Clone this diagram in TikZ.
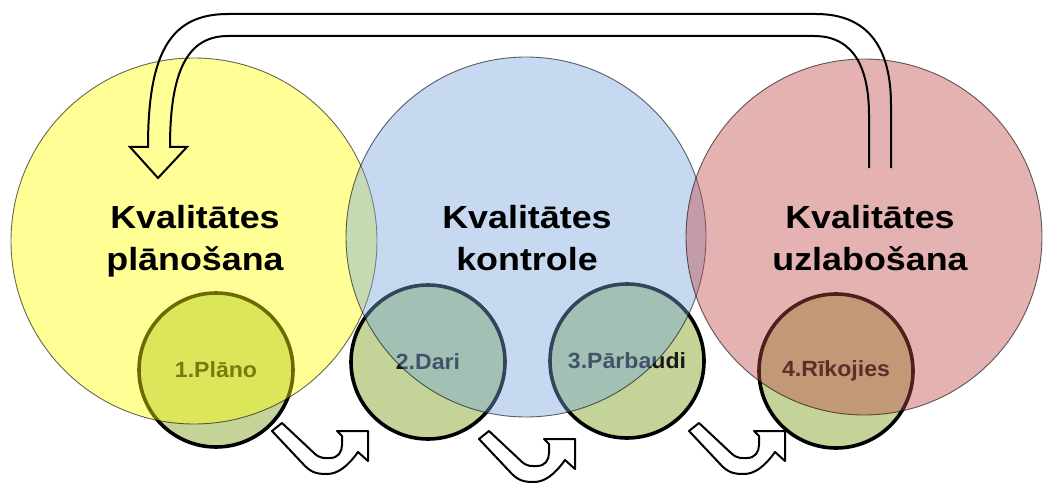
\documentclass[tikz,border=0pt]{standalone}
\usepackage{fontspec}
\setmainfont{Liberation Sans}
\newfontfamily\bigfont[FakeStretch=1.12]{Liberation Sans}
\newfontfamily\smallfont[FakeStretch=1.05]{Liberation Sans}
\definecolor{cyel}{RGB}{255,255,5}
\definecolor{cblue}{RGB}{119,165,219}
\definecolor{cred}{RGB}{193,72,72}
\definecolor{cgreen}{RGB}{196,212,152}
\tikzset{
  bigc/.style={circle, inner sep=0pt, draw=black, draw opacity=0.6, line width=0.9pt, fill opacity=0.42},
  smallc/.style={circle, inner sep=0pt, minimum size=154pt, draw=black, line width=3.6pt, fill=cgreen,
     text=black!90, font=\smallfont\bfseries\fontsize{22}{26}\selectfont},
  biglabel/.style={anchor=base, inner sep=0pt, font=\bigfont\bfseries\fontsize{32}{38}\selectfont, text=black},
  blockarrow/.style={draw=black, line width=2pt, fill=white, line join=round},
  looparrow/.style={draw=black, line width=2pt, line join=miter}
}
\begin{document}
\begin{tikzpicture}[x=1pt,y=-1pt]
\useasboundingbox (0,0) rectangle (1044,484);
% bottom U-turn block arrows
\foreach \dx/\dy/\nm in {0/0/ua, 207/8/ub, 417/0/uc}{
  \draw[blockarrow, shift={(\dx,\dy)}]
    (272,431) -- (282,423) -- (314,453)
    .. controls (320,459) and (325,458) .. (330,458)
    .. controls (338,458) and (342,452) .. (342,445)
    -- (342,436) -- (337,431) -- (368,431) -- (368,461) -- (358,452)
    .. controls (348,466) and (338,474) .. (327,474)
    .. controls (318,474) and (312,473) .. (305,466) -- cycle;
}
% small step circles
\node[smallc] (plano) at (216,370) {1.Plāno};
\node[smallc] (dari) at (428,362) {2.Dari};
\node[smallc] (parbaudi) at (627,361) {3.Pārbaudi};
\node[smallc] (rikojies) at (836,371) {4.Rīkojies};
% big circles
\node[bigc, fill=cyel, minimum size=366pt] (planosana) at (194,241) {};
\node[bigc, fill=cblue, minimum size=360pt] (kontrole) at (526,237) {};
\node[bigc, fill=cred, minimum size=356pt] (uzlabosana) at (864,237) {};
% big labels
\node[biglabel] (l1a) at (195,228) {Kvalitātes};
\node[biglabel] (l1b) at (195,270) {plānošana};
\node[biglabel] (l2a) at (527,228) {Kvalitātes};
\node[biglabel] (l2b) at (527,270) {kontrole};
\node[biglabel] (l3a) at (870,228) {Kvalitātes};
\node[biglabel] (l3b) at (870,270) {uzlabošana};
% loop arrow from improvement back to planning
\coordinate (rin) at (869,168);
\coordinate (rout) at (891,168);
\draw[looparrow]
  (rin) -- (869,115)
  .. controls (869,70) and (855,36) .. (814,36)
  -- (228,36)
  .. controls (188,36) and (170,70) .. (170,147)
  -- (187,147) -- (158,178) -- (130,147) -- (148,147)
  .. controls (148,50) and (172,14) .. (228,14)
  -- (816,14)
  .. controls (870,14) and (891,50) .. (891,105)
  -- (rout);
\end{tikzpicture}
\end{document}
